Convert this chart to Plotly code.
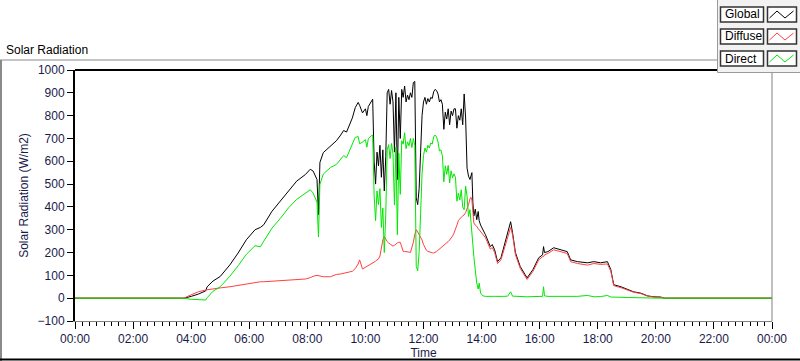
import plotly.graph_objects as go
from datetime import datetime, timedelta

TIME = ["00:00", "03:45", "04:00", "04:15", "04:30", "04:33", "04:45", "05:00", "05:20", "05:37",
        "05:54", "06:12", "06:23", "06:30", "06:47", "07:04", "07:22", "07:38", "07:56", "08:06",
        "08:12", "08:20", "08:23", "08:26", "08:33", "08:48", "09:00", "09:09", "09:15", "09:21",
        "09:27", "09:33", "09:39", "09:45", "09:48", "09:54", "10:00", "10:03", "10:06",
        "10:12", "10:15", "10:18", "10:21", "10:24", "10:27", "10:30", "10:33", "10:36", "10:39",
        "10:42", "10:45", "10:48", "10:51", "10:54", "10:57", "11:00", "11:03", "11:06", "11:09",
        "11:12", "11:15", "11:18", "11:21", "11:24", "11:27", "11:30", "11:33", "11:36", "11:39",
        "11:42", "11:45", "11:48", "11:51", "11:54", "11:57", "12:00", "12:03", "12:06", "12:09",
        "12:12", "12:15", "12:18", "12:21", "12:24", "12:27", "12:30", "12:33", "12:36", "12:39",
        "12:42", "12:45", "12:48", "12:51", "12:54", "12:57", "13:00", "13:03", "13:06", "13:09",
        "13:12", "13:15", "13:18", "13:21", "13:24", "13:27", "13:30", "13:33", "13:36", "13:38",
        "13:40", "13:42", "13:44", "13:47", "13:50", "13:53", "13:55", "13:58", "14:03", "14:08",
        "14:18", "14:22", "14:27", "14:33", "14:40", "14:46", "14:54", "15:00", "15:04", "15:10",
        "15:20", "15:34", "15:46", "15:58", "16:06", "16:08", "16:10", "16:17", "16:29", "16:43",
        "16:57", "17:04", "17:18", "17:39", "17:52", "18:06", "18:20", "18:27", "18:33", "18:48",
        "19:02", "19:14", "19:29", "19:43", "19:56", "20:10", "20:18", "24:00"]

GLOBAL = [0, 0, 8, 18, 32, 50, 75, 95, 146, 198,
          256, 300, 310, 322, 381, 425, 476, 513, 542, 565,
          557, 520, 366, 595, 638, 667, 690, 715, 735, 728,
          760, 790, 835, 858, 845, 812, 830, 800, 840,
          865, 872, 600, 500, 640, 580, 670, 530, 650, 470,
          620, 900, 915, 850, 910, 860, 640, 900, 520, 880,
          700, 915, 880, 930, 860, 890, 870, 900, 880, 945,
          950, 440, 410, 480, 640, 800, 860, 880, 850, 875,
          860, 880, 875, 905, 915, 910, 895, 860, 870, 850,
          740, 815, 785, 830, 760, 820, 800, 830, 830, 745,
          800, 780, 830, 760, 895, 790, 570, 535, 520, 540,
          550, 420, 360, 390, 344, 380, 340, 320, 300, 278,
          226, 235, 212, 160, 177, 221, 287, 335, 287, 199,
          138, 89, 125, 177, 190, 226, 200, 204, 221, 212,
          204, 168, 160, 155, 160, 155, 160, 125, 59, 50,
          37, 28, 22, 10, 6, 5, 0, 0]

DIFFUSE = [0, 0, 15, 28, 36, 37, 42, 45, 50, 56,
           64, 70, 72, 72, 74, 76, 78, 80, 84, 90,
           96, 100, 98, 96, 94, 94, 104, 106, 110, 112,
           115, 118, 130, 150, 168, 128, 135, 138, 142,
           150, 155, 158, 162, 168, 172, 185, 220, 255, 270,
           255, 248, 242, 238, 232, 228, 232, 238, 242, 245,
           245, 225, 205, 205, 205, 205, 202, 200, 220, 245,
           280, 300, 290, 280, 270, 255, 235, 222, 210, 205,
           202, 200, 199, 198, 200, 204, 210, 215, 220, 225,
           230, 235, 242, 248, 255, 262, 272, 285, 300, 320,
           340, 350, 355, 360, 365, 375, 390, 410, 435, 442,
           430, 380, 330, 320, 315, 305, 300, 290, 275, 265,
           215, 222, 200, 152, 168, 212, 277, 310, 278, 190,
           130, 82, 117, 168, 182, 182, 190, 196, 212, 203,
           196, 160, 152, 145, 152, 148, 150, 118, 55, 46,
           34, 26, 20, 9, 5, 4, 0, 0]

DIRECT = [0, 0, -5, -8, -8, 2, 30, 50, 96, 142,
          192, 230, 225, 250, 307, 349, 398, 433, 458, 475,
          461, 420, 268, 499, 544, 573, 586, 608, 625, 616,
          645, 672, 705, 708, 677, 684, 695, 662, 698,
          712, 715, 450, 340, 470, 410, 480, 310, 395, 200,
          365, 650, 673, 612, 678, 632, 408, 662, 278, 635,
          455, 690, 675, 725, 655, 685, 668, 700, 660, 700,
          670, 140, 120, 200, 370, 545, 625, 658, 640, 670,
          658, 680, 676, 707, 715, 706, 685, 645, 650, 625,
          510, 580, 543, 582, 505, 558, 528, 545, 530, 425,
          460, 430, 475, 400, 388, 491, 447, 358, 388, 330,
          271, 220, 183, 124, 66, 40, 66, 22, 10, 8,
          10, 8, 8, 7, 8, 8, 9, 28, 9, 8,
          7, 6, 7, 8, 8, 50, 10, 8, 8, 8,
          8, 8, 8, 12, 6, 7, 12, 5, 4, 4,
          3, 2, 2, 1, 1, 0, 0, 0]

SERIES = [("Global", GLOBAL, "#000000"), ("Diffuse", DIFFUSE, "#ff4040"), ("Direct", DIRECT, "#00e800")]
Y_TICKS = list(range(-100, 1001, 100))

BASE = datetime(2024, 1, 1)


def to_dt(s):
    h, m = map(int, s.split(":"))
    return BASE + timedelta(hours=h, minutes=m)


x = [to_dt(s) for s in TIME]

W, H = 800, 361
L, R, T, B = 75, 772, 70, 321


def px(v):
    return (v - L) / (R - L)


def py(v):
    return (B - v) / (B - T)


TXT = "#1a1a4a"
FONT = "Liberation Sans"

fig = go.Figure()
for name, vals, col in SERIES:
    fig.add_trace(go.Scatter(x=x, y=vals, mode="lines", name=name,
                             line=dict(color=col, width=1), showlegend=False))

fig.update_layout(
    width=W, height=H,
    margin=dict(l=L, r=W - R, t=T, b=H - B, autoexpand=False),
    paper_bgcolor="white", plot_bgcolor="white",
    font=dict(family=FONT, size=12, color=TXT),
    xaxis=dict(
        type="date", automargin=False,
        range=[BASE, BASE + timedelta(days=1)],
        tickformat="%H:%M", dtick=2 * 3600 * 1000, tick0=BASE,
        ticks="outside", ticklen=7, tickcolor="black", tickwidth=1,
        minor=dict(dtick=15 * 60 * 1000, ticks="outside", ticklen=4, tickcolor="black", tickwidth=1),
        showgrid=False, zeroline=False,
        showline=True, linecolor="#808080", linewidth=1,
        tickfont=dict(size=12, color=TXT),
        title=dict(text="Time", font=dict(size=12, color=TXT), standoff=2),
    ),
    yaxis=dict(
        automargin=False,
        range=[-100, 1000], tickvals=Y_TICKS,
        ticks="outside", ticklen=6, tickcolor="black", tickwidth=1,
        showgrid=False, zeroline=False,
        showline=True, linecolor="black", linewidth=2,
        tickfont=dict(size=12, color=TXT),
        title=dict(text="Solar Radiation (W/m2)", font=dict(size=12, color=TXT), standoff=6),
    ),
)

shapes = []
# plot frame: top black, right gray
shapes.append(dict(type="line", xref="paper", yref="paper", x0=0, x1=1, y0=1, y1=1,
                   line=dict(color="black", width=2)))
shapes.append(dict(type="line", xref="paper", yref="paper", x0=1, x1=1, y0=0, y1=1,
                   line=dict(color="#808080", width=1)))
# outer frame
shapes.append(dict(type="line", xref="paper", yref="paper", x0=px(0), x1=px(718), y0=py(60), y1=py(60),
                   line=dict(color="#8a8a8a", width=1)))
shapes.append(dict(type="line", xref="paper", yref="paper", x0=px(1), x1=px(1), y0=py(60), y1=py(361),
                   line=dict(color="#8a8a8a", width=2)))
shapes.append(dict(type="line", xref="paper", yref="paper", x0=px(0), x1=px(800), y0=py(359.5), y1=py(359.5),
                   line=dict(color="black", width=2)))
# legend panel
shapes.append(dict(type="rect", xref="paper", yref="paper", x0=px(717.5), x1=px(801), y0=py(72.5), y1=py(-1),
                   fillcolor="#f2f2f2", line=dict(color="#9a9a9a", width=1)))
annotations = []
rows = [(7, 22), (29, 44), (51, 66)]
for (name, vals, col), (y0, y1) in zip(SERIES, rows):
    shapes.append(dict(type="rect", xref="paper", yref="paper", x0=px(720.5), x1=px(763.5),
                       y0=py(y1), y1=py(y0), fillcolor="white", line=dict(color="#333333", width=1.5)))
    shapes.append(dict(type="rect", xref="paper", yref="paper", x0=px(767.5), x1=px(796.5),
                       y0=py(y1), y1=py(y0), fillcolor="white", line=dict(color="#333333", width=1.5)))
    lo, hi = y1 - 4, y0 + 4
    path = "M {} {} L {} {} L {} {} L {} {}".format(
        px(769.5), py(lo), px(777), py(hi), px(785), py(lo), px(793.5), py(hi))
    shapes.append(dict(type="path", xref="paper", yref="paper", path=path,
                       line=dict(color=col, width=1)))
    annotations.append(dict(text=name, xref="paper", yref="paper", x=px(723), y=py((y0 + y1) / 2),
                            xanchor="left", yanchor="middle", showarrow=False,
                            font=dict(size=12, color="black", family=FONT)))

annotations.append(dict(text="Solar Radiation", xref="paper", yref="paper", x=px(4), y=py(50),
                        xanchor="left", yanchor="middle", showarrow=False,
                        font=dict(size=12, color="black", family=FONT)))

fig.update_layout(shapes=shapes, annotations=annotations)
fig.write_html("out.html", config={"displayModeBar": False},
               post_script="document.body.style.margin='0';document.body.style.overflow='hidden';")
